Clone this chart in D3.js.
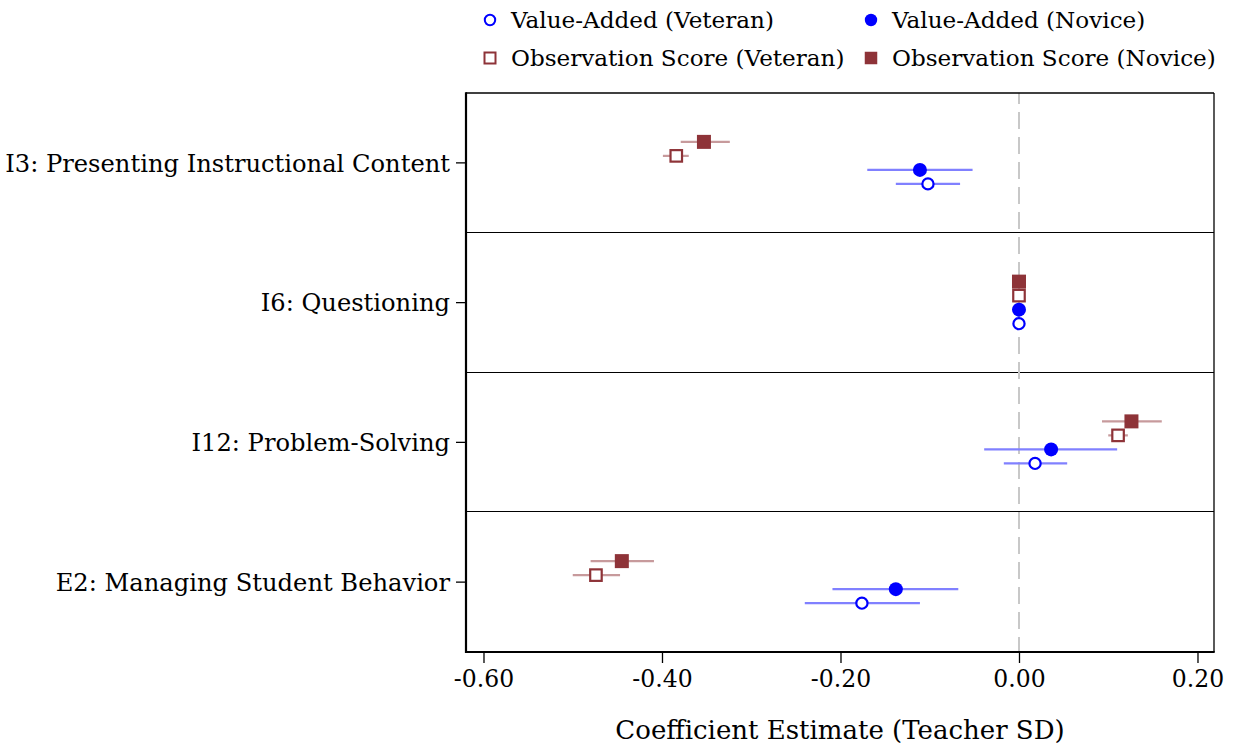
<!DOCTYPE html>
<html>
<head>
<meta charset="utf-8">
<script src="https://cdn.jsdelivr.net/npm/d3@7"></script>
<style>
  html, body { margin: 0; padding: 0; background: #fff; }
  svg { display: block; }
  text { font-family: "DejaVu Serif", serif; fill: #000; }
</style>
</head>
<body>
<svg id="chart" width="1233" height="746"></svg>
<script>
const categories = ["I3: Presenting Instructional Content", "I6: Questioning", "I12: Problem-Solving", "E2: Managing Student Behavior"];

const vaVeteran   = [-0.102, 0, 0.018, -0.176];
const vaVeteranLo = [-0.138, 0, -0.017, -0.240];
const vaVeteranHi = [-0.066, 0, 0.054, -0.111];

const vaNovice    = [-0.111, 0, 0.036, -0.138];
const vaNoviceLo  = [-0.170, 0, -0.039, -0.209];
const vaNoviceHi  = [-0.052, 0, 0.110, -0.068];

const obsVeteran   = [-0.384, 0, 0.111, -0.474];
const obsVeteranLo = [-0.399, 0, 0.100, -0.500];
const obsVeteranHi = [-0.370, 0, 0.122, -0.447];

const obsNovice   = [-0.353, 0, 0.126, -0.445];
const obsNoviceLo = [-0.379, 0, 0.093, -0.480];
const obsNoviceHi = [-0.324, 0, 0.160, -0.409];

const xTicks = [-0.6, -0.4, -0.2, 0, 0.2];
const xDomain = [-0.6196, 0.2185];

const seriesNames = ["Observation Score (Novice)", "Observation Score (Veteran)", "Value-Added (Novice)", "Value-Added (Veteran)"];
const legendOrder = ["Value-Added (Veteran)", "Value-Added (Novice)", "Observation Score (Veteran)", "Observation Score (Novice)"];

const BLUE = "#0000ff", BLUE_CI = "#8080ff";
const MAROON = "#8e3338", MAROON_CI = "#c79a9c";

const series = [
  { name: seriesNames[0], v: obsNovice, lo: obsNoviceLo, hi: obsNoviceHi, shape: "square", filled: true, color: MAROON, ci: MAROON_CI },
  { name: seriesNames[1], v: obsVeteran, lo: obsVeteranLo, hi: obsVeteranHi, shape: "square", filled: false, color: MAROON, ci: MAROON_CI },
  { name: seriesNames[2], v: vaNovice, lo: vaNoviceLo, hi: vaNoviceHi, shape: "circle", filled: true, color: BLUE, ci: BLUE_CI },
  { name: seriesNames[3], v: vaVeteran, lo: vaVeteranLo, hi: vaVeteranHi, shape: "circle", filled: false, color: BLUE, ci: BLUE_CI }
];

const FS = 23.5;
const pLeft = 466, pRight = 1214, pTop = 93, pBottom = 652;

const svg = d3.select("#chart");
const x = d3.scaleLinear().domain(xDomain).range([pLeft, pRight]);
const y = d3.scaleBand().domain(categories).range([pTop, pBottom]).padding(0);
const yOff = d3.scalePoint().domain(seriesNames).range([-21, 21]);

const fmt = d => d3.format(".2f")(d).replace("\u2212", "-");

// panel separators
svg.append("g").selectAll("line")
  .data(categories.slice(1))
  .join("line")
  .attr("x1", pLeft).attr("x2", pRight)
  .attr("y1", d => Math.round(y(d)) - 0.5).attr("y2", d => Math.round(y(d)) - 0.5)
  .attr("stroke", "#000").attr("stroke-width", 1.2);

// zero reference line
svg.append("line")
  .attr("x1", x(0)).attr("x2", x(0))
  .attr("y1", pTop).attr("y2", pBottom)
  .attr("stroke", "#c8c8c8").attr("stroke-width", 2)
  .attr("stroke-dasharray", "17,8").attr("stroke-dashoffset", 6);

// frame
svg.append("line").attr("x1", pLeft).attr("x2", pRight).attr("y1", pTop).attr("y2", pTop).attr("stroke", "#000").attr("stroke-width", 1.5);
svg.append("line").attr("x1", pRight).attr("x2", pRight).attr("y1", pTop).attr("y2", pBottom).attr("stroke", "#000").attr("stroke-width", 1.3);

// CIs and markers
const g = svg.append("g");
series.forEach(s => {
  const rows = categories.map((c, i) => ({ c, v: s.v[i], lo: s.lo[i], hi: s.hi[i] }));
  const cy = d => y(d.c) + y.bandwidth() / 2 + yOff(s.name);
  g.append("g").selectAll("line")
    .data(rows.filter(d => d.hi > d.lo))
    .join("line")
    .attr("x1", d => x(d.lo)).attr("x2", d => x(d.hi))
    .attr("y1", cy).attr("y2", cy)
    .attr("stroke", s.ci).attr("stroke-width", 2.2);
  const mg = g.append("g");
  if (s.shape === "circle") {
    mg.selectAll("circle").data(rows).join("circle")
      .attr("cx", d => x(d.v)).attr("cy", cy)
      .attr("r", s.filled ? 7 : 5.6)
      .attr("fill", s.filled ? s.color : "#fff")
      .attr("stroke", s.color).attr("stroke-width", s.filled ? 0 : 2.2);
  } else {
    const sz = s.filled ? 14 : 11.5;
    mg.selectAll("rect").data(rows).join("rect")
      .attr("x", d => x(d.v) - sz / 2).attr("y", d => cy(d) - sz / 2)
      .attr("width", sz).attr("height", sz)
      .attr("fill", s.filled ? s.color : "#fff")
      .attr("stroke", s.color).attr("stroke-width", s.filled ? 0 : 2.2);
  }
});

// x axis
const xAxis = d3.axisBottom(x).tickValues(xTicks).tickFormat(fmt).tickSize(11).tickSizeOuter(0);
const xg = svg.append("g").attr("transform", `translate(0,${pBottom})`).call(xAxis);
xg.select(".domain").remove();
xg.selectAll(".tick line").attr("stroke", "#000").attr("stroke-width", 1.3);
xg.selectAll(".tick text").attr("font-size", FS).attr("font-family", "DejaVu Serif").attr("fill", "#000").attr("dy", null).attr("y", 35);
svg.append("line").attr("x1", pLeft - 1).attr("x2", pRight + 0.7).attr("y1", pBottom).attr("y2", pBottom).attr("stroke", "#000").attr("stroke-width", 2.2);

// y axis
const yAxis = d3.axisLeft(y).tickSize(10).tickSizeOuter(0).tickPadding(6);
const yg = svg.append("g").attr("transform", `translate(${pLeft},0)`).call(yAxis);
yg.select(".domain").remove();
yg.selectAll(".tick line").attr("stroke", "#000").attr("stroke-width", 1.3);
yg.selectAll(".tick text").attr("font-size", 24.2).attr("font-family", "DejaVu Serif").attr("fill", "#000").attr("dy", "0.36em");
svg.append("line").attr("x1", pLeft).attr("x2", pLeft).attr("y1", pTop - 0.7).attr("y2", pBottom + 1).attr("stroke", "#000").attr("stroke-width", 2.2);

// axis title
svg.append("text")
  .attr("x", (615 + 1065) / 2).attr("y", 739)
  .attr("text-anchor", "middle").attr("font-size", 26)
  .text("Coefficient Estimate (Teacher SD)");

// legend
const legendCols = [490, 871];
const legendRows = [20, 58];
const lg = svg.append("g");
legendOrder.forEach((name, i) => {
  const s = series.find(t => t.name === name);
  const lx = legendCols[i % 2], ly = legendRows[Math.floor(i / 2)];
  if (s.shape === "circle") {
    lg.append("circle").attr("cx", lx).attr("cy", ly)
      .attr("r", s.filled ? 6.2 : 5.2)
      .attr("fill", s.filled ? s.color : "#fff")
      .attr("stroke", s.color).attr("stroke-width", s.filled ? 0 : 2);
  } else {
    const sz = s.filled ? 12.5 : 11;
    lg.append("rect").attr("x", lx - sz / 2).attr("y", ly - sz / 2).attr("width", sz).attr("height", sz)
      .attr("fill", s.filled ? s.color : "#fff")
      .attr("stroke", s.color).attr("stroke-width", s.filled ? 0 : 2);
  }
  lg.append("text").attr("x", lx + 21).attr("y", ly).attr("dy", "0.36em")
    .attr("font-size", 23.1).text(name);
});
</script>
</body>
</html>
